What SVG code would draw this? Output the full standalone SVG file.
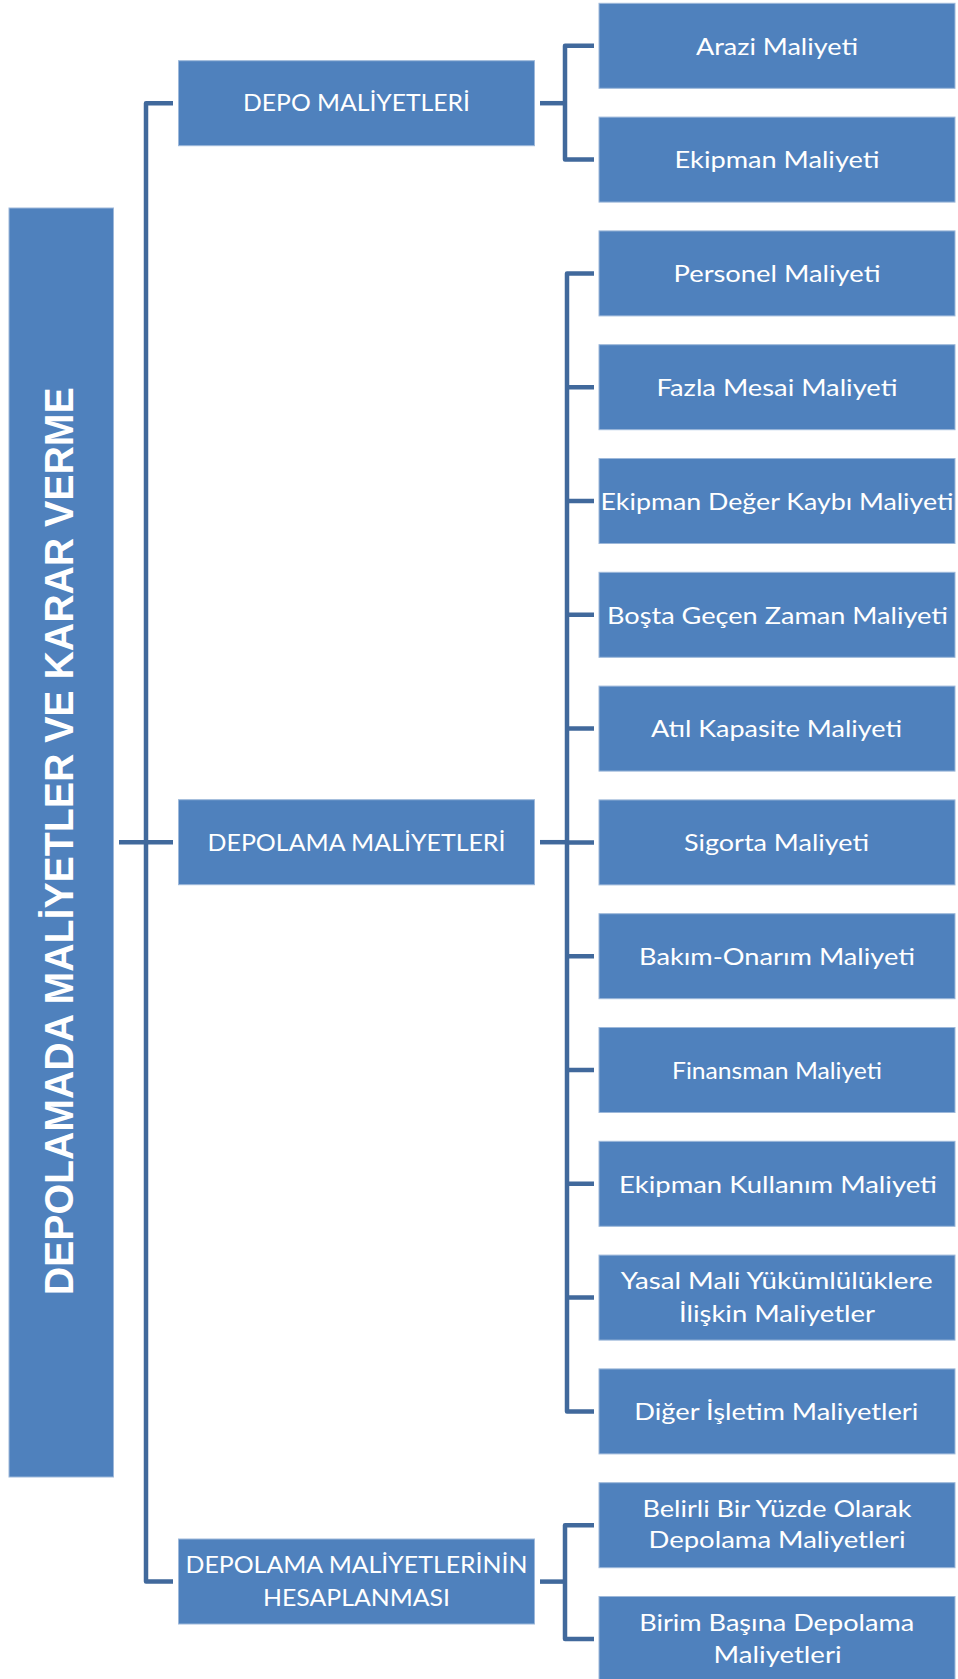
<svg xmlns="http://www.w3.org/2000/svg" width="958" height="1679" viewBox="0 0 958 1679">
<style>
.box{fill:#4F81BD;stroke:#9DB8DA;stroke-width:1}
.t{fill:#FFFFFF;font-family:Lato,"Open Sans","Noto Sans",sans-serif;font-size:24px;text-anchor:middle}
.title{fill:#FFFFFF;font-family:"Liberation Sans",Arial,sans-serif;font-weight:bold;font-size:41px;text-anchor:middle}
.c{fill:none;stroke:#41699C;stroke-width:4.5;stroke-linejoin:round}
</style>
<rect width="958" height="1679" fill="#FFFFFF"/>
<g id="connectors">
<path class="c" d="M173,103.2 H146 V1581.6 H173"/>
<path class="c" d="M119,842.2 H173"/>
<path class="c" d="M540,103.2 H565"/>
<path class="c" d="M594,45.8 H565 V159.6 H594"/>
<path class="c" d="M540,842.2 H567"/>
<path class="c" d="M594,273.4 H567 V1411.4 H594"/>
<path class="c" d="M567,387.2 H594 M567,501 H594 M567,614.8 H594 M567,728.6 H594 M567,842.4 H594 M567,956.2 H594 M567,1070 H594 M567,1183.8 H594 M567,1297.6 H594"/>
<path class="c" d="M540,1581.6 H565"/>
<path class="c" d="M594,1525.2 H565 V1639 H594"/>
</g>
<g id="root">
<rect class="box" x="9" y="208" width="104.5" height="1269"/>
<text class="title" transform="translate(73,841.3) rotate(-90)" textLength="908" lengthAdjust="spacingAndGlyphs">DEPOLAMADA MALİYETLER VE KARAR VERME</text>
</g>
<g id="depo">
<rect class="box" x="178.5" y="60.7" width="356" height="85"/>
<text class="t" x="356.5" y="111.2" textLength="227" lengthAdjust="spacingAndGlyphs">DEPO MALİYETLERİ</text>
</g>
<g id="depolama">
<rect class="box" x="178.5" y="799.7" width="356" height="85"/>
<text class="t" x="356.5" y="850.7" textLength="298" lengthAdjust="spacingAndGlyphs">DEPOLAMA MALİYETLERİ</text>
</g>
<g id="hesap">
<rect class="box" x="178.5" y="1539" width="356" height="85"/>
<text class="t" x="356.5" y="1573.3" textLength="342" lengthAdjust="spacingAndGlyphs">DEPOLAMA MALİYETLERİNİN</text>
<text class="t" x="356.5" y="1605.7" textLength="187" lengthAdjust="spacingAndGlyphs">HESAPLANMASI</text>
</g>
<g id="arazi">
<rect class="box" x="599" y="3.3" width="356" height="85"/>
<text class="t" x="777" y="54.5" textLength="162" lengthAdjust="spacingAndGlyphs">Arazi Maliyeti</text>
</g>
<g id="ekipman">
<rect class="box" x="599" y="117.1" width="356" height="85"/>
<text class="t" x="777" y="168.3" textLength="205" lengthAdjust="spacingAndGlyphs">Ekipman Maliyeti</text>
</g>
<g id="personel">
<rect class="box" x="599" y="230.9" width="356" height="85"/>
<text class="t" x="777" y="282.1" textLength="207" lengthAdjust="spacingAndGlyphs">Personel Maliyeti</text>
</g>
<g id="fazla">
<rect class="box" x="599" y="344.7" width="356" height="85"/>
<text class="t" x="777" y="395.9" textLength="241" lengthAdjust="spacingAndGlyphs">Fazla Mesai Maliyeti</text>
</g>
<g id="deger">
<rect class="box" x="599" y="458.5" width="356" height="85"/>
<text class="t" x="777" y="509.7" textLength="353" lengthAdjust="spacingAndGlyphs">Ekipman Değer Kaybı Maliyeti</text>
</g>
<g id="bosta">
<rect class="box" x="599" y="572.3" width="356" height="85"/>
<text class="t" x="777.5" y="623.5" textLength="341" lengthAdjust="spacingAndGlyphs">Boşta Geçen Zaman Maliyeti</text>
</g>
<g id="atil">
<rect class="box" x="599" y="686.1" width="356" height="85"/>
<text class="t" x="776.5" y="737.3" textLength="251" lengthAdjust="spacingAndGlyphs">Atıl Kapasite Maliyeti</text>
</g>
<g id="sigorta">
<rect class="box" x="599" y="799.9" width="356" height="85"/>
<text class="t" x="776.5" y="851.1" textLength="185" lengthAdjust="spacingAndGlyphs">Sigorta Maliyeti</text>
</g>
<g id="bakim">
<rect class="box" x="599" y="913.7" width="356" height="85"/>
<text class="t" x="777" y="964.9" textLength="276" lengthAdjust="spacingAndGlyphs">Bakım-Onarım Maliyeti</text>
</g>
<g id="finansman">
<rect class="box" x="599" y="1027.5" width="356" height="85"/>
<text class="t" x="777" y="1078.7" textLength="210" lengthAdjust="spacingAndGlyphs">Finansman Maliyeti</text>
</g>
<g id="kullanim">
<rect class="box" x="599" y="1141.3" width="356" height="85"/>
<text class="t" x="778" y="1192.5" textLength="318" lengthAdjust="spacingAndGlyphs">Ekipman Kullanım Maliyeti</text>
</g>
<g id="yasal">
<rect class="box" x="599" y="1255.1" width="356" height="85"/>
<text class="t" x="776.7" y="1289.3" textLength="312" lengthAdjust="spacingAndGlyphs">Yasal Mali Yükümlülüklere</text>
<text class="t" x="777" y="1321.7" textLength="196" lengthAdjust="spacingAndGlyphs">İlişkin Maliyetler</text>
</g>
<g id="diger">
<rect class="box" x="599" y="1368.9" width="356" height="85"/>
<text class="t" x="776.3" y="1420.1" textLength="284" lengthAdjust="spacingAndGlyphs">Diğer İşletim Maliyetleri</text>
</g>
<g id="belirli">
<rect class="box" x="599" y="1482.7" width="356" height="85"/>
<text class="t" x="777" y="1516.7" textLength="269" lengthAdjust="spacingAndGlyphs">Belirli Bir Yüzde Olarak</text>
<text class="t" x="777" y="1548.3" textLength="257" lengthAdjust="spacingAndGlyphs">Depolama Maliyetleri</text>
</g>
<g id="birim">
<rect class="box" x="599" y="1596.5" width="356" height="85"/>
<text class="t" x="776.7" y="1630.5" textLength="275" lengthAdjust="spacingAndGlyphs">Birim Başına Depolama</text>
<text class="t" x="777.6" y="1662.5" textLength="128" lengthAdjust="spacingAndGlyphs">Maliyetleri</text>
</g>
</svg>
